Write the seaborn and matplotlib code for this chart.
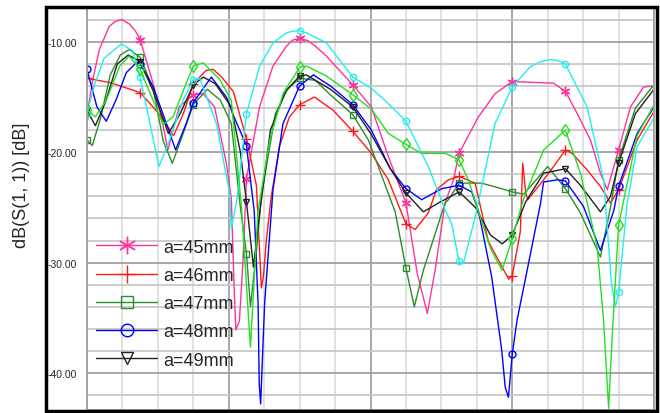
import matplotlib
matplotlib.use("Agg")
import matplotlib.pyplot as plt
import seaborn as sns
import pandas as pd
from matplotlib.patches import Rectangle
from matplotlib.ticker import MultipleLocator, FormatStrFormatter

sns.set_style("white")
plt.rcParams['font.family'] = ['Liberation Sans', 'DejaVu Sans']
plt.rcParams['axes.unicode_minus'] = False

# marker positions (frequency, GHz)
MARKER_FREQ = [1.0, 1.375, 1.75, 2.125, 2.5, 2.875, 3.25, 3.625, 4.0, 4.375, 4.75]

# --- a=45mm ---
F_45 = [1.0, 1.04, 1.087, 1.157, 1.20, 1.249, 1.30, 1.34, 1.375, 1.466, 1.524, 1.571, 1.65, 1.75,
        1.819, 1.90, 1.983, 2.018, 2.04, 2.05, 2.075, 2.10, 2.125, 2.217, 2.312, 2.407, 2.45, 2.5,
        2.56, 2.62, 2.689, 2.875, 3.006, 3.126, 3.25, 3.33, 3.401, 3.456, 3.526, 3.585, 3.625,
        3.761, 3.879, 4.0, 4.292, 4.375, 4.458, 4.552, 4.622, 4.67, 4.75, 4.834, 4.926, 5.0]
S11_45 = [-16.6, -13.5, -10.7, -8.6, -8.15, -8.0, -8.4, -9.0, -9.8, -13.75, -16.8, -19.8, -15.9, -14.8,
          -14.7, -15.9, -21.0, -24.2, -33.0, -36.1, -35.3, -30.0, -22.4, -15.9, -12.2, -10.4, -9.85, -9.7,
          -9.9, -10.5, -11.3, -13.9, -15.9, -20.4, -24.6, -31.0, -34.6, -30.7, -24.6, -22.5, -20.1,
          -16.8, -14.7, -13.6, -13.75, -14.5, -16.5, -18.9, -21.9, -23.4, -19.8, -15.9, -14.1, -14.0]

# --- a=46mm ---
F_46 = [1.0, 1.164, 1.375, 1.517, 1.611, 1.68, 1.75, 1.84, 1.89, 1.95, 2.032, 2.125, 2.195,
        2.23, 2.245, 2.265, 2.30, 2.357, 2.428, 2.5, 2.604, 2.736, 2.875, 3.006, 3.126, 3.25,
        3.315, 3.408, 3.465, 3.55, 3.625, 3.738, 3.832, 3.975, 4.0, 4.057, 4.074, 4.095, 4.11,
        4.221, 4.292, 4.375, 4.422, 4.528, 4.622, 4.693, 4.75, 4.881, 5.0]
S11_46 = [-13.3, -13.7, -14.6, -16.65, -18.5, -16.5, -13.8, -12.6, -12.5, -13.2, -14.5, -18.8, -23.0,
          -32.3, -31.2, -28.0, -24.0, -19.5, -16.8, -15.7, -15.0, -16.2, -18.1, -20.1, -22.5, -26.5,
          -27.0, -25.5, -23.4, -22.5, -22.2, -22.8, -28.1, -31.5, -31.2, -27.2, -21.0, -23.7, -24.3,
          -22.5, -21.3, -19.8, -20.1, -21.6, -23.1, -24.6, -23.4, -18.9, -16.3]

# --- a=47mm ---
F_47 = [1.0, 1.037, 1.094, 1.164, 1.235, 1.298, 1.375, 1.468, 1.538, 1.602, 1.673, 1.75, 1.849,
        1.941, 2.018, 2.082, 2.125, 2.153, 2.195, 2.23, 2.329, 2.414, 2.5, 2.611, 2.717, 2.875,
        2.985, 3.174, 3.25, 3.309, 3.373, 3.526, 3.55, 3.625, 3.782, 3.924, 4.0, 4.081, 4.25,
        4.375, 4.481, 4.622, 4.693, 4.75, 4.869, 5.0]
S11_47 = [-18.9, -19.4, -17.0, -13.0, -11.2, -10.7, -11.4, -14.3, -19.0, -21.0, -18.5, -15.7, -14.3,
          -15.3, -17.4, -25.0, -29.2, -34.0, -29.0, -24.0, -16.5, -14.3, -13.3, -13.5, -14.8, -16.6,
          -18.9, -25.4, -30.5, -34.0, -30.7, -24.6, -24.3, -22.8, -22.8, -23.3, -23.6, -23.8, -21.3,
          -23.3, -25.5, -29.5, -25.0, -20.7, -16.0, -13.9]

# --- a=48mm ---
F_48 = [1.0, 1.07, 1.136, 1.207, 1.277, 1.348, 1.375, 1.466, 1.56, 1.625, 1.70, 1.75, 1.877,
        1.983, 2.032, 2.125, 2.18, 2.207, 2.215, 2.225, 2.253, 2.265, 2.312, 2.383, 2.5, 2.597,
        2.717, 2.875, 3.006, 3.14, 3.25, 3.361, 3.503, 3.625, 3.714, 3.761, 3.855, 3.926, 3.95,
        3.973, 4.0, 4.034, 4.105, 4.2, 4.221, 4.317, 4.375, 4.502, 4.622, 4.716, 4.75, 4.881, 5.0]
S11_48 = [-12.5, -15.9, -17.2, -15.2, -12.8, -11.9, -12.0, -14.05, -17.4, -19.8, -17.4, -15.5, -13.2,
          -15.0, -16.65, -19.4, -25.4, -33.7, -41.0, -42.8, -33.7, -31.6, -23.4, -17.4, -14.0, -13.0,
          -14.0, -15.7, -18.0, -21.5, -23.3, -24.3, -23.3, -23.0, -23.6, -25.3, -31.3, -37.95, -41.25,
          -42.2, -38.3, -35.2, -30.7, -24.6, -22.7, -22.5, -22.6, -24.9, -28.9, -25.3, -23.1, -18.3, -15.9]

# --- a=49mm ---
F_49 = [1.0, 1.059, 1.129, 1.214, 1.291, 1.375, 1.468, 1.574, 1.658, 1.75, 1.821, 1.905, 2.018,
        2.082, 2.125, 2.174, 2.223, 2.294, 2.40, 2.5, 2.548, 2.717, 2.875, 3.006, 3.14, 3.25,
        3.373, 3.493, 3.625, 3.74, 3.846, 3.93, 4.0, 4.095, 4.221, 4.375, 4.481, 4.622, 4.693,
        4.75, 4.869, 5.0]
S11_49 = [-16.2, -17.6, -15.5, -12.0, -11.2, -11.8, -14.5, -18.3, -16.5, -13.9, -13.2, -13.8, -15.9,
          -20.0, -24.5, -30.4, -25.0, -18.0, -14.5, -13.1, -13.0, -14.3, -15.9, -18.4, -21.5, -23.7,
          -25.4, -24.5, -23.6, -25.0, -27.5, -28.3, -27.5, -24.5, -21.9, -21.5, -23.0, -25.4, -24.0,
          -21.0, -16.5, -14.3]

# --- unlabelled curves ---
F_CYAN = [1.0, 1.05, 1.12, 1.242, 1.32, 1.375, 1.508, 1.583, 1.677, 1.75, 1.795, 1.913, 2.006,
          2.018, 2.059, 2.125, 2.218, 2.313, 2.406, 2.45, 2.5, 2.55, 2.689, 2.875, 3.006, 3.126,
          3.25, 3.408, 3.526, 3.573, 3.625, 3.655, 3.738, 3.879, 4.0, 4.128, 4.20, 4.27, 4.32,
          4.375, 4.528, 4.645, 4.70, 4.728, 4.75, 4.81, 4.881, 5.0]
S11_CYAN = [-16.5, -14.0, -11.5, -10.2, -10.8, -13.2, -21.3, -18.9, -15.3, -13.45, -13.3, -17.4, -23.7,
            -26.9, -24.2, -16.5, -12.2, -10.1, -9.2, -9.05, -9.0, -9.2, -10.1, -13.2, -14.2, -15.6,
            -17.2, -21.3, -25.2, -26.5, -29.9, -30.1, -25.9, -17.4, -14.1, -12.25, -11.8, -11.6, -11.7,
            -12.0, -15.9, -22.5, -31.9, -34.0, -32.7, -24.7, -19.5, -16.9]

F_LIME = [1.0, 1.059, 1.136, 1.231, 1.298, 1.375, 1.466, 1.537, 1.607, 1.70, 1.75, 1.819, 1.936,
          2.018, 2.09, 2.153, 2.183, 2.206, 2.289, 2.383, 2.5, 2.548, 2.689, 2.875, 3.006, 3.126,
          3.25, 3.359, 3.528, 3.625, 3.69, 3.846, 3.928, 4.0, 4.081, 4.222, 4.375, 4.481, 4.599,
          4.644, 4.68, 4.705, 4.75, 4.881, 5.0]
S11_LIME = [-16.2, -16.8, -15.3, -12.2, -11.3, -12.5, -15.3, -17.5, -16.8, -13.75, -12.2, -11.9, -13.4,
            -15.3, -25.0, -37.65, -30.7, -25.4, -18.9, -14.7, -12.3, -12.2, -13.1, -14.8, -16.1, -18.3,
            -19.3, -20.1, -20.1, -20.7, -22.5, -28.7, -30.7, -27.8, -24.2, -19.8, -18.0, -21.9, -28.6,
            -35.2, -43.2, -36.7, -26.6, -18.5, -15.7]

SERIES = [
    ("a=45mm", F_45, S11_45, "#FF3399", (6, 2, 0), 7),
    ("a=46mm", F_46, S11_46, "#FF1A1A", "+", 7),
    ("a=47mm", F_47, S11_47, "#2E8B2E", "s", 5),
    ("a=48mm", F_48, S11_48, "#0000FF", "o", 5),
    ("a=49mm", F_49, S11_49, "#222222", "v", 5),
    (None, F_CYAN, S11_CYAN, "#22EEEE", "o", 4.5),
    (None, F_LIME, S11_LIME, "#22E022", "d", 6),
]

fig = plt.figure(figsize=(6.6, 4.14), dpi=100)
ax = fig.add_axes([87 / 660, 3 / 414, 567 / 660, 403 / 414])

handles = []
labels = []
for label, freq, s11, color, marker, ms in SERIES:
    df = pd.DataFrame({"freq": freq, "s11": s11})
    idx = [i for i, v in enumerate(freq) if any(abs(v - m) < 1e-6 for m in MARKER_FREQ)]
    sns.lineplot(data=df, x="freq", y="s11", ax=ax, color=color, lw=1.0,
                 marker=marker, markevery=idx, markersize=ms,
                 markerfacecolor="none", markeredgecolor=color, markeredgewidth=1.0,
                 legend=False, sort=False)
    if label is not None:
        handles.append(ax.lines[-1])
        labels.append(label)

ax.set_xlim(1.0, 5.0)
ax.set_ylim(-43.35, -6.85)
ax.xaxis.set_major_locator(MultipleLocator(1.0))
ax.xaxis.set_minor_locator(MultipleLocator(0.25))
ax.yaxis.set_major_locator(MultipleLocator(10))
ax.yaxis.set_minor_locator(MultipleLocator(2))
ax.yaxis.set_major_formatter(FormatStrFormatter("%.2f"))

ax.set_axisbelow(True)
ax.grid(which="major", color="#a0a0a0", lw=1.3)
ax.xaxis.grid(which="minor", color="#dedede", lw=1.3)
ax.yaxis.grid(which="minor", color="#c8c8c8", lw=1.3)

ax.tick_params(axis="x", which="both", length=0, labelbottom=False)
ax.tick_params(axis="y", which="both", length=6, width=1, color="#909090", pad=1.5,
               labelsize=7.5, direction="out")
for spine in ax.spines.values():
    spine.set_color("#a0a0a0")
    spine.set_linewidth(1.3)
ax.set_xlabel("")
ax.set_ylabel("")

fig.text(0.032, 0.553, "dB(S(1, 1)) [dB]", rotation=90, ha="center", va="center",
         fontsize=13)

ax.legend(handles, labels, loc="upper left", bbox_to_anchor=(0.016, 0.425),
          frameon=False, fontsize=13, handlelength=3.4, handletextpad=0.3,
          labelspacing=0.62, borderpad=0, borderaxespad=0, markerscale=1.8)

fig.patches.append(Rectangle((46 / 660, 2 / 414), 611 / 660, 404 / 414,
                             transform=fig.transFigure, fill=False, lw=2.5, ec="black"))

fig.savefig("out.png", dpi=100)
